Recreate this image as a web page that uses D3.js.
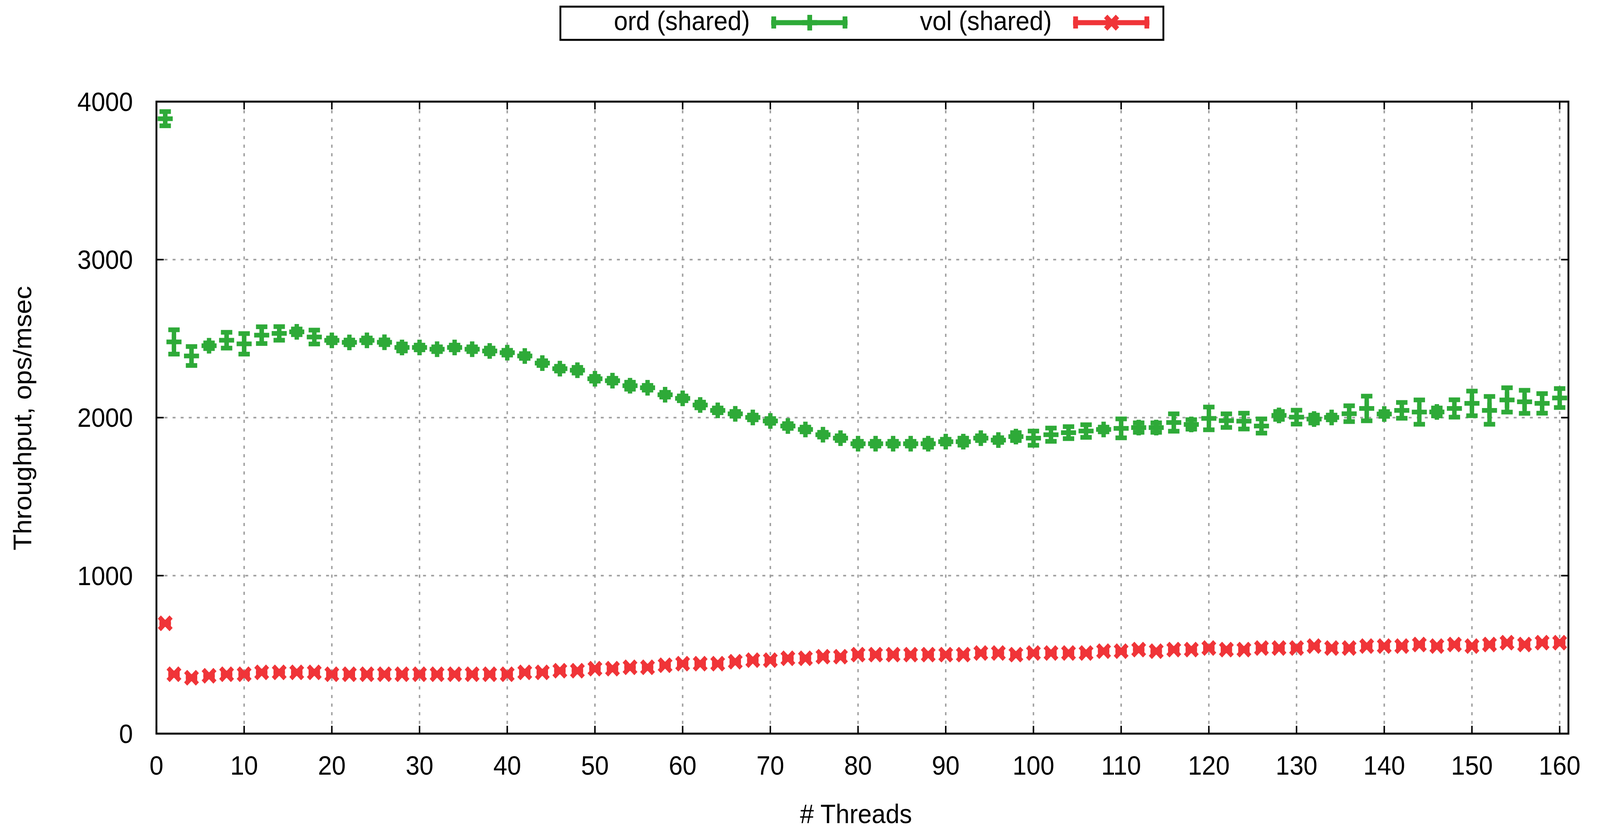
<!DOCTYPE html>
<html>
<head>
<meta charset="utf-8">
<script src="https://cdn.jsdelivr.net/npm/d3@7"></script>
<style>
	html, body { margin: 0; padding: 0; width: 100%; height: 100%; overflow: hidden; background: white; }
	#chart { width: 100%; height: 100%; }
	svg { display: block; }
</style>
</head>
<body>
<div id="chart"></div>
<script>
var threads = [1, 2, 4, 6, 8, 10, 12, 14, 16, 18, 20, 22, 24, 26, 28, 30, 32, 34, 36, 38, 40,
	42, 44, 46, 48, 50, 52, 54, 56, 58, 60, 62, 64, 66, 68, 70, 72, 74, 76, 78, 80,
	82, 84, 86, 88, 90, 92, 94, 96, 98, 100, 102, 104, 106, 108, 110, 112, 114, 116, 118, 120,
	122, 124, 126, 128, 130, 132, 134, 136, 138, 140, 142, 144, 146, 148, 150, 152, 154, 156, 158, 160];

var ordValues = [3892, 2479, 2390, 2455, 2490, 2467, 2522, 2533, 2543, 2510, 2489,
	2476, 2489, 2477, 2444, 2444, 2433, 2444, 2433, 2422, 2411,
	2390, 2345, 2310, 2300, 2246, 2234, 2202, 2189, 2145, 2122,
	2080, 2046, 2024, 2001, 1979, 1947, 1925, 1892, 1870, 1835,
	1835, 1835, 1835, 1835, 1848, 1848, 1870, 1858, 1880, 1870,
	1892, 1905, 1915, 1925, 1932, 1937, 1937, 1969, 1957, 1995,
	1981, 1978, 1947, 2014, 2003, 1991, 2001, 2025, 2058, 2023,
	2046, 2035, 2036, 2058, 2090, 2046, 2112, 2100, 2090, 2124];

var ordErrors = [45, 77, 60, 18, 50, 65, 53, 43, 18, 44, 15,
	15, 15, 15, 22, 15, 15, 15, 15, 18, 15,
	15, 15, 15, 18, 15, 15, 22, 15, 15, 15,
	18, 15, 15, 15, 15, 15, 15, 15, 15, 15,
	15, 15, 15, 22, 15, 22, 15, 15, 25, 45,
	42, 38, 40, 15, 60, 30, 30, 55, 30, 72,
	43, 50, 45, 25, 44, 25, 15, 50, 78, 15,
	50, 77, 25, 55, 78, 88, 77, 73, 62, 60];

var volValues = [698, 376, 354, 366, 376, 376, 388, 388, 388, 388, 376,
	376, 376, 376, 376, 376, 376, 376, 376, 376, 376,
	388, 388, 398, 398, 411, 411, 420, 420, 433, 443,
	443, 443, 455, 465, 465, 477, 477, 487, 487, 500,
	500, 500, 500, 500, 500, 500, 510, 510, 500, 510,
	510, 510, 510, 522, 522, 532, 522, 532, 532, 542,
	532, 532, 542, 542, 542, 554, 542, 542, 554, 554,
	554, 564, 554, 564, 554, 564, 576, 564, 576, 576];

var volErrors = [8, 8, 8, 8, 8, 8, 8, 8, 8, 8, 8,
	8, 8, 8, 8, 8, 8, 8, 8, 8, 8,
	8, 8, 8, 8, 8, 8, 8, 8, 8, 8,
	8, 8, 8, 8, 8, 8, 8, 8, 8, 8,
	8, 8, 8, 8, 8, 8, 8, 8, 8, 8,
	8, 8, 8, 8, 8, 8, 8, 8, 8, 8,
	8, 8, 8, 8, 8, 8, 8, 8, 8, 8,
	8, 8, 8, 8, 8, 8, 8, 8, 8, 8];

var xTicks = [0, 10, 20, 30, 40, 50, 60, 70, 80, 90, 100, 110, 120, 130, 140, 150, 160];
var yTicks = [0, 1000, 2000, 3000, 4000];
var seriesNames = ["ord (shared)", "vol (shared)"];

var width = 4357, height = 2121;
var green = "#2eaa38", red = "#f03438";
var font = "'Liberation Sans', Arial, sans-serif";

// drawn in 4357x2121 units, scaled to whatever the window really is
var svg = d3.select("#chart")
  .append("svg")
    .attr("width", "100%")
    .attr("height", "100%")
    .attr("viewBox", "0 0 " + width + " " + height)
    .attr("preserveAspectRatio", "none");

var x = d3.scaleLinear().domain([0, 161]).range([426, 4271]);
var y = d3.scaleLinear().domain([0, 4000]).range([1877, 260]);

// grid
svg.append("g")
  .selectAll("line")
  .data(xTicks.slice(1))
  .enter().append("line")
    .attr("x1", function(d) { return x(d); })
    .attr("x2", function(d) { return x(d); })
    .attr("y1", y(4000))
    .attr("y2", y(0))
    .attr("stroke", "#a0a0a0")
    .attr("stroke-width", 4)
    .attr("stroke-dasharray", "8,14");

svg.append("g")
  .selectAll("line")
  .data(yTicks.slice(1, 4))
  .enter().append("line")
    .attr("x1", x(0))
    .attr("x2", x(161))
    .attr("y1", function(d) { return y(d); })
    .attr("y2", function(d) { return y(d); })
    .attr("stroke", "#a0a0a0")
    .attr("stroke-width", 4)
    .attr("stroke-dasharray", "8,14");

// ticks on all four sides, pointing in
var ticks = svg.append("g").attr("stroke", "black").attr("stroke-width", 4);

xTicks.forEach(function(d) {
	ticks.append("line").attr("x1", x(d)).attr("x2", x(d)).attr("y1", y(0)).attr("y2", y(0) - 20);
	ticks.append("line").attr("x1", x(d)).attr("x2", x(d)).attr("y1", y(4000)).attr("y2", y(4000) + 20);
});
yTicks.forEach(function(d) {
	ticks.append("line").attr("x1", x(0)).attr("x2", x(0) + 20).attr("y1", y(d)).attr("y2", y(d));
	ticks.append("line").attr("x1", x(161)).attr("x2", x(161) - 20).attr("y1", y(d)).attr("y2", y(d));
});

// tick labels
svg.append("g")
  .selectAll("text")
  .data(xTicks)
  .enter().append("text")
    .attr("x", function(d) { return x(d); })
    .attr("y", 1982)
    .attr("text-anchor", "middle")
    .style("font-family", font)
    .style("font-size", "68px")
    .text(function(d) { return d; });

svg.append("g")
  .selectAll("text")
  .data(yTicks)
  .enter().append("text")
    .attr("x", 362)
    .attr("y", function(d) { return y(d) + 24; })
    .attr("text-anchor", "end")
    .style("font-family", font)
    .style("font-size", "68px")
    .text(function(d) { return d; });

// axis titles
svg.append("text")
    .attr("transform", "translate(85, 1070) rotate(-90)")
    .attr("text-anchor", "middle")
    .style("font-family", font)
    .style("font-size", "68px")
    .text("Throughput, ops/msec");

svg.append("text")
    .attr("x", 2331)
    .attr("y", 2106)
    .attr("text-anchor", "middle")
    .style("font-family", font)
    .style("font-size", "68px")
    .text("# Threads");

// errorbar glyph: vertical bar, caps and the point symbol
function drawBar(g, cx, yLow, yHigh, color, symbol) {
	var s = g.append("g").attr("stroke", color).attr("stroke-width", 12).attr("fill", "none");
	s.append("line").attr("x1", cx).attr("x2", cx).attr("y1", yLow).attr("y2", yHigh);
	s.append("line").attr("x1", cx - 15.5).attr("x2", cx + 15.5).attr("y1", yLow).attr("y2", yLow);
	s.append("line").attr("x1", cx - 15.5).attr("x2", cx + 15.5).attr("y1", yHigh).attr("y2", yHigh);
	drawSymbol(s, cx, (yLow + yHigh) / 2, symbol);
};

function drawSymbol(s, cx, cy, symbol) {
	if(symbol == "plus") {
		s.append("line").attr("x1", cx - 20.5).attr("x2", cx + 20.5).attr("y1", cy).attr("y2", cy);
		s.append("line").attr("x1", cx).attr("x2", cx).attr("y1", cy - 20).attr("y2", cy + 20);
	}
	else {
		s.append("line").attr("x1", cx - 16).attr("x2", cx + 16).attr("y1", cy - 16).attr("y2", cy + 16);
		s.append("line").attr("x1", cx - 16).attr("x2", cx + 16).attr("y1", cy + 16).attr("y2", cy - 16);
	}
};

var plot = svg.append("g");
for(var i = 0; i < threads.length; i++) {
	drawBar(plot, x(threads[i]), y(volValues[i] - volErrors[i]), y(volValues[i] + volErrors[i]), red, "cross");
}
for(var i = 0; i < threads.length; i++) {
	drawBar(plot, x(threads[i]), y(ordValues[i] - ordErrors[i]), y(ordValues[i] + ordErrors[i]), green, "plus");
}

// border
svg.append("rect")
    .attr("x", x(0))
    .attr("y", y(4000))
    .attr("width", x(161) - x(0))
    .attr("height", y(0) - y(4000))
    .attr("fill", "none")
    .attr("stroke", "black")
    .attr("stroke-width", 5);

// legend
var legend = svg.append("g");
legend.append("rect")
    .attr("x", 1526)
    .attr("y", 17)
    .attr("width", 1642)
    .attr("height", 85)
    .attr("fill", "white")
    .attr("stroke", "black")
    .attr("stroke-width", 5);

var keyColors = [green, red], keySymbols = ["plus", "cross"];
seriesNames.forEach(function(name, i) {
	var off = i * 822;
	legend.append("text")
	    .attr("x", 2042 + off)
	    .attr("y", 77)
	    .attr("text-anchor", "end")
	    .style("font-family", font)
	    .style("font-size", "68px")
	    .text(name);
	var k = legend.append("g").attr("stroke", keyColors[i]).attr("stroke-width", 13);
	k.append("line").attr("x1", 2100 + off).attr("x2", 2308 + off).attr("y1", 58).attr("y2", 58);
	k.append("line").attr("x1", 2107 + off).attr("x2", 2107 + off).attr("y1", 42).attr("y2", 73);
	k.append("line").attr("x1", 2301 + off).attr("x2", 2301 + off).attr("y1", 42).attr("y2", 73);
	drawSymbol(k, 2205 + off, 58, keySymbols[i]);
});
</script>
</body>
</html>
